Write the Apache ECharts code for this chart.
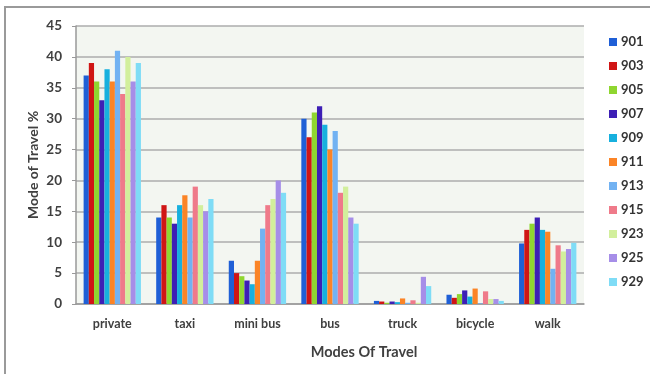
<!DOCTYPE html>
<html>
<head>
<meta charset="utf-8">
<script src="https://cdn.jsdelivr.net/npm/echarts@6/dist/echarts.min.js"></script>
<style>
  html, body { margin: 0; padding: 0; background: #ffffff; }
  #chart { width: 650px; height: 374px; }
</style>
</head>
<body>
<div id="chart"></div>
<script>
// Travel modes along the x axis
const modes = ['private', 'taxi', 'mini bus', 'bus', 'truck', 'bicycle', 'walk'];

// Share of each travel mode (%) per zone, in the order of `modes`
const z901 = [37, 14, 7, 30, 0.5, 1.5, 9.8];
const z903 = [39, 16, 5, 27, 0.4, 1.0, 12];
const z905 = [36, 14, 4.5, 31, 0.2, 1.6, 13];
const z907 = [33, 13, 3.8, 32, 0.4, 2.2, 14];
const z909 = [38, 16, 3.2, 29, 0.3, 1.2, 12];
const z911 = [36, 17.6, 7, 25, 0.9, 2.5, 11.7];
const z913 = [41, 14, 12.2, 28, 0.2, 0.1, 5.7];
const z915 = [34, 19, 16, 18, 0.6, 2.05, 9.5];
const z923 = [40, 16, 17, 19, 0.2, 0.8, 8.5];
const z925 = [36, 15, 20, 14, 4.4, 0.8, 8.9];
const z929 = [39, 17, 18, 13, 2.9, 0.5, 9.9];

const zoneNames = ['901', '903', '905', '907', '909', '911', '913', '915', '923', '925', '929'];
const zoneValues = [z901, z903, z905, z907, z909, z911, z913, z915, z923, z925, z929];

const palette = ['#1f5fd6', '#d01515', '#8fd630', '#3d1fb5', '#17b0de', '#fb8426',
                 '#72b2f2', '#ef7a8a', '#d2ef9c', '#a68ee8', '#7fdcf6'];

const font = 'Lato, "Open Sans", sans-serif';
const chart = echarts.init(document.getElementById('chart'), null, { renderer: 'canvas' });

chart.setOption({
  animation: false,
  color: palette,
  graphic: [
    {
      type: 'rect',
      z: -10,
      shape: { x: 5, y: 7, width: 670, height: 400 },
      style: { fill: 'none', stroke: '#9a9a9a', lineWidth: 2 }
    }
  ],
  grid: {
    left: 76, right: 66, top: 26, bottom: 70,
    show: true, backgroundColor: '#f3f6f1', borderWidth: 0
  },
  legend: {
    orient: 'vertical',
    left: 604, top: 30,
    itemWidth: 8, itemHeight: 8, itemGap: 10,
    icon: 'rect',
    textStyle: { fontFamily: font, fontWeight: 'bold', fontSize: 13, color: '#333', lineHeight: 14, padding: [0, 0, 0, -1] },
    data: zoneNames
  },
  xAxis: {
    type: 'category',
    data: modes,
    name: 'Modes Of Travel',
    nameLocation: 'middle',
    nameGap: 41,
    nameTextStyle: { fontFamily: font, fontWeight: 'bold', fontSize: 14.5, color: '#404040', padding: [0, 0, 0, 68] },
    axisLine: { lineStyle: { color: '#999', width: 1.5 } },
    axisTick: { show: false },
    axisLabel: { fontFamily: font, fontWeight: 'bold', fontSize: 12.5, color: '#404040', margin: 13 }
  },
  yAxis: {
    type: 'value',
    min: 0, max: 45, interval: 5,
    name: 'Mode of Travel %',
    nameLocation: 'middle',
    nameGap: 36,
    nameMoveOverlap: false,
    nameTextStyle: { fontFamily: font, fontWeight: 'bold', fontSize: 14, color: '#404040' },
    axisLine: { show: true, lineStyle: { color: '#999', width: 1.5 } },
    axisTick: { show: true, length: 4, lineStyle: { color: '#999' } },
    axisLabel: { fontFamily: font, fontWeight: 'bold', fontSize: 13.5, color: '#404040', margin: 14 },
    splitLine: { lineStyle: { color: '#adadad', width: 1.5 } }
  },
  series: zoneNames.map((name, i) => ({
    name: name,
    type: 'bar',
    data: zoneValues[i],
    barGap: '0%',
    barCategoryGap: '21%'
  }))
});
</script>
</body>
</html>
